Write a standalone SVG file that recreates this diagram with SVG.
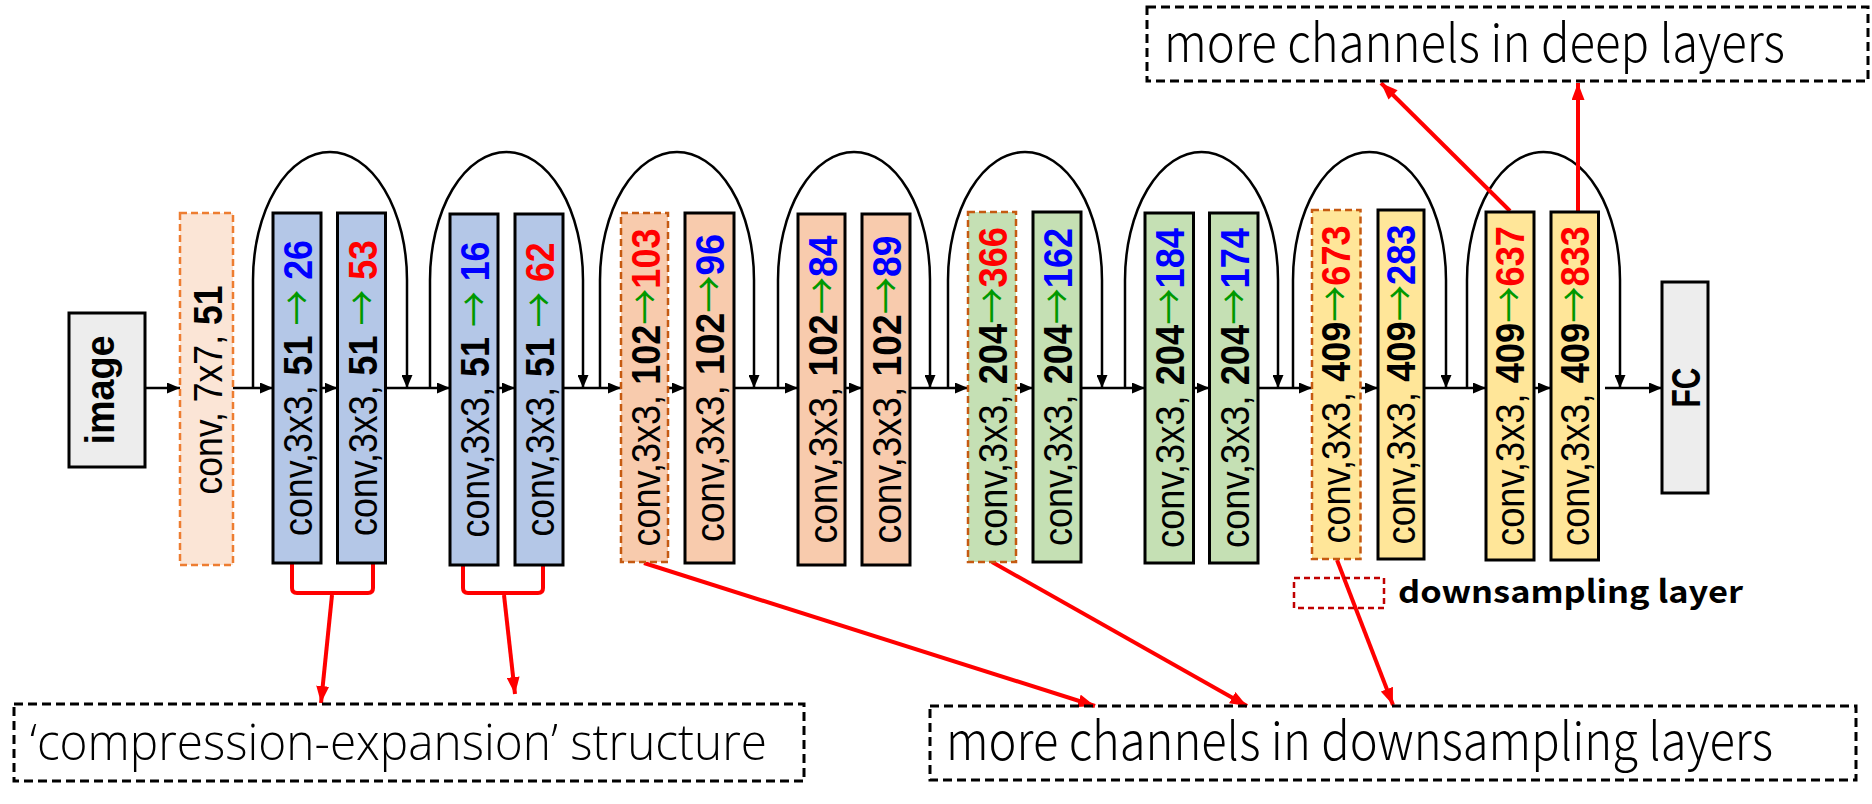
<svg xmlns="http://www.w3.org/2000/svg" width="1872" height="804" viewBox="0 0 1872 804">
<style>
.box{stroke:#000;stroke-width:3}
.ds{stroke:#C55A11;stroke-width:2.5;stroke-dasharray:7 4}
.ds0{stroke:#ED7D31;stroke-width:2.5;stroke-dasharray:7 4}
.blue{fill:#B4C7E7}.org{fill:#F8CBAD}.grn{fill:#C5E0B4}.yel{fill:#FFE699}.gry{fill:#EDEDED}.pale{fill:#FBE5D6}
.lbl{font-family:"Liberation Sans",Arial,sans-serif;font-size:40px;text-anchor:middle;fill:#000}
.b{font-weight:bold}
.ga{fill:#009900;font-family:"Noto Sans CJK SC","DejaVu Sans",sans-serif;font-weight:normal}
.nb{font-weight:bold;fill:#0000FF}
.nr{font-weight:bold;fill:#FF0000}
.blk{stroke:#000;stroke-width:2.5;fill:none}
.red{stroke:#FF0000;stroke-width:4;fill:none}
.call{fill:none;stroke:#000;stroke-width:3;stroke-dasharray:9 5}
.ct{font-family:"Noto Sans CJK SC","Liberation Sans",sans-serif;font-weight:300;font-size:52px;fill:#000}
.ctq{font-family:"Open Sans","Noto Sans","Liberation Sans",sans-serif;font-weight:300;font-size:50px;fill:#000}
.lg{font-family:"Noto Sans CJK SC","Liberation Sans",sans-serif;font-weight:bold;font-size:31px;fill:#000}
</style>
<defs>
<marker id="ah" markerUnits="userSpaceOnUse" markerWidth="13" markerHeight="11" refX="13" refY="5.5" orient="auto"><path d="M0,0 L13,5.5 L0,11 z" fill="#000"/></marker>
<marker id="rh" markerUnits="userSpaceOnUse" markerWidth="17" markerHeight="13" refX="17" refY="6.5" orient="auto"><path d="M0,0 L17,6.5 L0,13 z" fill="#FF0000"/></marker>
</defs>

<g id="connectors">
<g class="blk" marker-end="url(#ah)">
<line x1="145" y1="388" x2="180" y2="388"/>
<line x1="233" y1="388" x2="273" y2="388"/>
<line x1="321" y1="388" x2="337.5" y2="388"/>
<line x1="386" y1="388" x2="450" y2="388"/>
<line x1="497.5" y1="388" x2="515" y2="388"/>
<line x1="563" y1="388" x2="621" y2="388"/>
<line x1="668" y1="388" x2="685" y2="388"/>
<line x1="734" y1="388" x2="798" y2="388"/>
<line x1="845" y1="388" x2="862" y2="388"/>
<line x1="910" y1="388" x2="968" y2="388"/>
<line x1="1016" y1="388" x2="1033" y2="388"/>
<line x1="1081" y1="388" x2="1145" y2="388"/>
<line x1="1193.5" y1="388" x2="1209.5" y2="388"/>
<line x1="1258" y1="388" x2="1312" y2="388"/>
<line x1="1361" y1="388" x2="1378" y2="388"/>
<line x1="1424" y1="388" x2="1486" y2="388"/>
<line x1="1534" y1="388" x2="1551" y2="388"/>
<line x1="1605" y1="388" x2="1662" y2="388"/>
<path d="M253,388 V280 A77,128 0 0 1 407,280 V388"/>
<path d="M430,388 V280 A76.5,128 0 0 1 583,280 V388"/>
<path d="M600,388 V280 A77,128 0 0 1 754,280 V388"/>
<path d="M778,388 V280 A76,128 0 0 1 930,280 V388"/>
<path d="M948,388 V280 A77,128 0 0 1 1102,280 V388"/>
<path d="M1125,388 V280 A76.5,128 0 0 1 1278,280 V388"/>
<path d="M1293,388 V280 A76.5,128 0 0 1 1446,280 V388"/>
<path d="M1467,388 V280 A76.5,128 0 0 1 1620,280 V388"/>
</g>
<g class="red">
<path d="M292,563 V588 Q292,593 297,593 H368 Q373,593 373,588 V563"/>
<path d="M463,563 V588 Q463,593 468,593 H538 Q543,593 543,588 V563"/>
</g>
<g class="red" stroke-width="3.5" marker-end="url(#rh)">
<line x1="332" y1="595" x2="321" y2="703"/>
<line x1="504" y1="595" x2="515" y2="694"/>
<line x1="644" y1="563" x2="1095" y2="706"/>
<line x1="992" y1="562" x2="1247" y2="706"/>
<line x1="1337" y1="560" x2="1393" y2="705"/>
<line x1="1510" y1="211" x2="1381" y2="83"/>
<line x1="1578" y1="211" x2="1578" y2="83"/>
</g>
</g>

<g id="image"><rect class="box gry" x="69" y="313" width="76" height="154"/><text class="lbl b" font-size="31" transform="translate(114,390) rotate(-90)" textLength="109" lengthAdjust="spacingAndGlyphs">image</text></g>
<g id="conv7"><rect class="ds0 pale" x="180" y="213" width="53" height="352"/><text class="lbl" transform="translate(222,390) rotate(-90)" textLength="209" lengthAdjust="spacingAndGlyphs">conv, 7x7, <tspan class="b">51</tspan></text></g>

<g id="b1"><rect class="box blue" x="273" y="213" width="48" height="350"/><text class="lbl" transform="translate(312,388) rotate(-90)" textLength="296" lengthAdjust="spacingAndGlyphs">conv,3x3, <tspan class="b">51</tspan> <tspan class="ga">→</tspan> <tspan class="nb">26</tspan></text></g>
<g id="b2"><rect class="box blue" x="337.5" y="213" width="48" height="350"/><text class="lbl" transform="translate(376.5,388) rotate(-90)" textLength="296" lengthAdjust="spacingAndGlyphs">conv,3x3, <tspan class="b">51</tspan> <tspan class="ga">→</tspan> <tspan class="nr">53</tspan></text></g>
<g id="b3"><rect class="box blue" x="450" y="214" width="48" height="351"/><text class="lbl" transform="translate(489,389.5) rotate(-90)" textLength="296" lengthAdjust="spacingAndGlyphs">conv,3x3, <tspan class="b">51</tspan> <tspan class="ga">→</tspan> <tspan class="nb">16</tspan></text></g>
<g id="b4"><rect class="box blue" x="515" y="214" width="48" height="351"/><text class="lbl" transform="translate(554,389.5) rotate(-90)" textLength="294" lengthAdjust="spacingAndGlyphs">conv,3x3, <tspan class="b">51</tspan> <tspan class="ga">→</tspan> <tspan class="nr">62</tspan></text></g>

<g id="b5"><rect class="ds org" x="621" y="213" width="47" height="349"/><text class="lbl" transform="translate(659.5,387.5) rotate(-90)" textLength="318" lengthAdjust="spacingAndGlyphs">conv,3x3, <tspan class="b">102</tspan><tspan class="ga">→</tspan><tspan class="nr">103</tspan></text></g>
<g id="b6"><rect class="box org" x="685" y="213" width="49" height="350"/><text class="lbl" transform="translate(724,388) rotate(-90)" textLength="308" lengthAdjust="spacingAndGlyphs">conv,3x3, <tspan class="b">102</tspan><tspan class="ga">→</tspan><tspan class="nb">96</tspan></text></g>
<g id="b7"><rect class="box org" x="798" y="214" width="47" height="351"/><text class="lbl" transform="translate(837,389.5) rotate(-90)" textLength="308" lengthAdjust="spacingAndGlyphs">conv,3x3, <tspan class="b">102</tspan><tspan class="ga">→</tspan><tspan class="nb">84</tspan></text></g>
<g id="b8"><rect class="box org" x="862" y="214" width="48" height="351"/><text class="lbl" transform="translate(901,389.5) rotate(-90)" textLength="308" lengthAdjust="spacingAndGlyphs">conv,3x3, <tspan class="b">102</tspan><tspan class="ga">→</tspan><tspan class="nb">89</tspan></text></g>

<g id="b9"><rect class="ds grn" x="968" y="212" width="48" height="350"/><text class="lbl" transform="translate(1007,387) rotate(-90)" textLength="320" lengthAdjust="spacingAndGlyphs">conv,3x3, <tspan class="b">204</tspan><tspan class="ga">→</tspan><tspan class="nr">366</tspan></text></g>
<g id="b10"><rect class="box grn" x="1033" y="212" width="48" height="350"/><text class="lbl" transform="translate(1072,387) rotate(-90)" textLength="318" lengthAdjust="spacingAndGlyphs">conv,3x3, <tspan class="b">204</tspan><tspan class="ga">→</tspan><tspan class="nb">162</tspan></text></g>
<g id="b11"><rect class="box grn" x="1145" y="213" width="48.5" height="350"/><text class="lbl" transform="translate(1184,388) rotate(-90)" textLength="320" lengthAdjust="spacingAndGlyphs">conv,3x3, <tspan class="b">204</tspan><tspan class="ga">→</tspan><tspan class="nb">184</tspan></text></g>
<g id="b12"><rect class="box grn" x="1209.5" y="213" width="48.5" height="350"/><text class="lbl" transform="translate(1248.5,388) rotate(-90)" textLength="320" lengthAdjust="spacingAndGlyphs">conv,3x3, <tspan class="b">204</tspan><tspan class="ga">→</tspan><tspan class="nb">174</tspan></text></g>

<g id="b13"><rect class="ds yel" x="1312" y="210" width="48.5" height="349"/><text class="lbl" transform="translate(1350,384.5) rotate(-90)" textLength="318" lengthAdjust="spacingAndGlyphs">conv,3x3, <tspan class="b">409</tspan><tspan class="ga">→</tspan><tspan class="nr">673</tspan></text></g>
<g id="b14"><rect class="box yel" x="1378" y="210" width="46" height="349"/><text class="lbl" transform="translate(1415,384.5) rotate(-90)" textLength="320" lengthAdjust="spacingAndGlyphs">conv,3x3, <tspan class="b">409</tspan><tspan class="ga">→</tspan><tspan class="nb">283</tspan></text></g>
<g id="b15"><rect class="box yel" x="1486" y="212" width="48" height="348"/><text class="lbl" transform="translate(1524,386) rotate(-90)" textLength="320" lengthAdjust="spacingAndGlyphs">conv,3x3, <tspan class="b">409</tspan><tspan class="ga">→</tspan><tspan class="nr">637</tspan></text></g>
<g id="b16"><rect class="box yel" x="1551" y="212" width="47.5" height="348"/><text class="lbl" transform="translate(1589,386) rotate(-90)" textLength="320" lengthAdjust="spacingAndGlyphs">conv,3x3, <tspan class="b">409</tspan><tspan class="ga">→</tspan><tspan class="nr">833</tspan></text></g>

<g id="fc"><rect class="box gry" x="1662" y="282" width="46" height="211"/><text class="lbl b" font-size="39" transform="translate(1700,387.5) rotate(-90)" textLength="40" lengthAdjust="spacingAndGlyphs">FC</text></g>

<g id="callout-deep"><rect class="call" x="1147" y="7" width="721" height="74"/><text class="ct" x="1164" y="62" textLength="621" lengthAdjust="spacingAndGlyphs">more channels in deep layers</text></g>
<g id="callout-ce"><rect class="call" x="14" y="704" width="790" height="77"/><text class="ctq" x="30" y="760" textLength="737" lengthAdjust="spacingAndGlyphs">‘compression-expansion’ structure</text></g>
<g id="callout-ds"><rect class="call" x="930" y="706" width="926" height="74"/><text class="ct" x="946" y="760" textLength="827" lengthAdjust="spacingAndGlyphs">more channels in downsampling layers</text></g>
<g id="legend"><rect x="1294" y="578" width="90" height="30" fill="none" stroke="#C00000" stroke-width="2.5" stroke-dasharray="6 4"/><text class="lg" x="1398" y="603" textLength="345" lengthAdjust="spacingAndGlyphs">downsampling layer</text></g>
</svg>
